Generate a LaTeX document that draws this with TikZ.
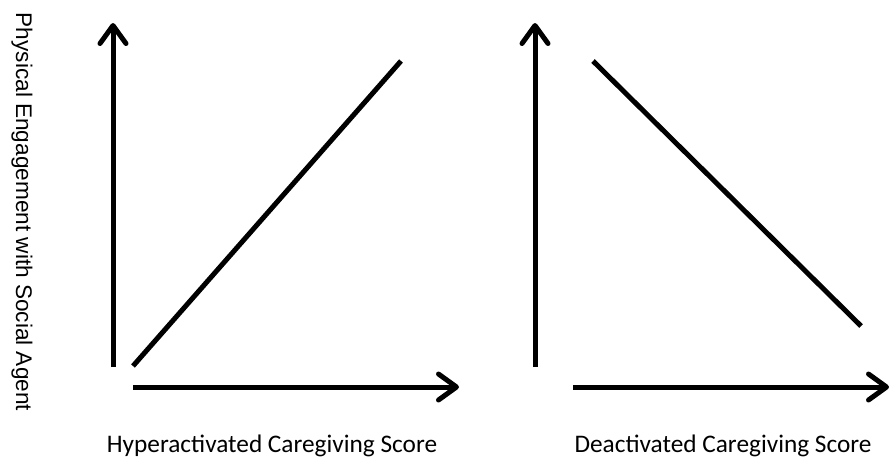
\documentclass[tikz,border=0pt]{standalone}
\usepackage{fontspec}
\setmainfont{Carlito}
\newfontfamily\ylabfont{Liberation Sans}
\usetikzlibrary{arrows.meta}
\begin{document}
\begin{tikzpicture}[x=1pt,y=-1pt,
  axis/.style={line width=5pt,-{Straight Barb[length=18pt,width=26pt,line cap=round,line join=round]}},
  trend/.style={line width=5pt},
  xlab/.style={font=\fontsize{25.3}{28}\selectfont,inner sep=0pt},
  ylab/.style={font=\ylabfont\fontsize{22.6}{26}\selectfont,inner sep=0pt,rotate=-90}]
\useasboundingbox (0,0) rectangle (891,464);
% left panel
\coordinate (ly0) at (113,367);
\coordinate (ly1) at (113,23);
\coordinate (lx0) at (133,387);
\coordinate (lx1) at (459,387);
\coordinate (ld0) at (133,366);
\coordinate (ld1) at (401,61);
\draw[axis] (ly0) -- (ly1);
\draw[axis] (lx0) -- (lx1);
\draw[trend] (ld0) -- (ld1);
% right panel
\coordinate (ry0) at (535,367);
\coordinate (ry1) at (535,23);
\coordinate (rx0) at (573,387);
\coordinate (rx1) at (889,387);
\coordinate (rd0) at (593,61);
\coordinate (rd1) at (861,326);
\draw[axis] (ry0) -- (ry1);
\draw[axis] (rx0) -- (rx1);
\draw[trend] (rd0) -- (rd1);
% labels
\node[xlab] (lxl) at (272,446) {Hyperactivated Caregiving Score};
\node[xlab] (rxl) at (723,446) {Deactivated Caregiving Score};
\node[ylab] (yl) at (22,212) {Physical Engagement with Social Agent};
\end{tikzpicture}
\end{document}
